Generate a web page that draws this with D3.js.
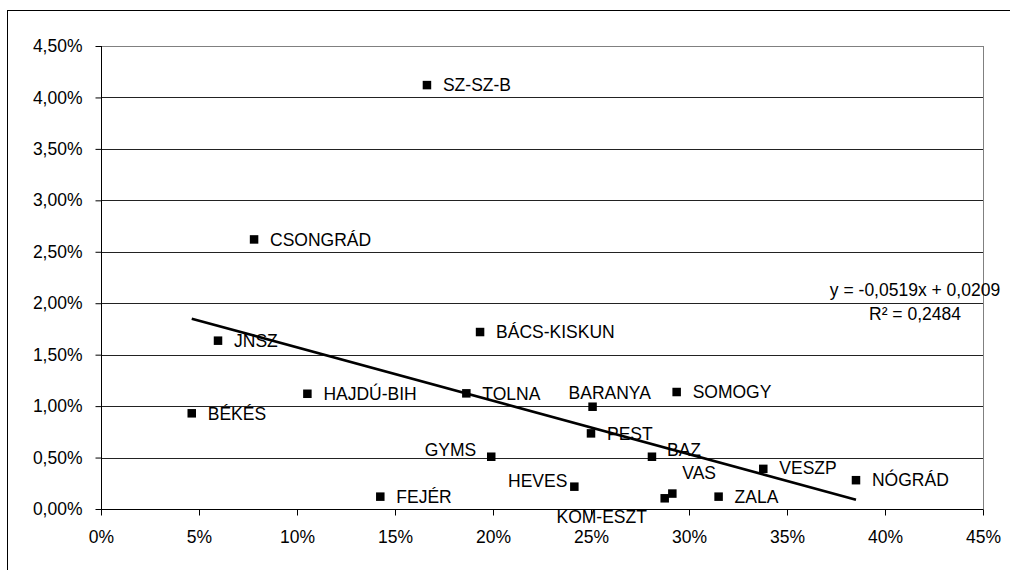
<!DOCTYPE html>
<html>
<head>
<meta charset="utf-8">
<script src="https://cdn.jsdelivr.net/npm/d3@7"></script>
<style>
  html, body { margin: 0; padding: 0; background: #fff; }
  svg { display: block; }
  text { font-family: "Liberation Sans", Arial, sans-serif; font-size: 17.5px; fill: #000; }
</style>
</head>
<body>
<svg id="chart" width="1010" height="570"></svg>
<script>
// ---- data ----
const regions = ["SZ-SZ-B","CSONGRÁD","JNSZ","BÉKÉS","HAJDÚ-BIH","BÁCS-KISKUN","TOLNA","BARANYA","PEST","GYMS","BAZ","HEVES","FEJÉR","KOM-ESZT","VAS","ZALA","VESZP","NÓGRÁD","SOMOGY"];
const xValues = [0.1663,0.0781,0.0597,0.0463,0.1053,0.1934,0.1864,0.2508,0.2500,0.1991,0.2811,0.2415,0.1425,0.2876,0.2915,0.3151,0.3379,0.3852,0.2937];
const yValues = [0.0412,0.0262,0.01636,0.0093,0.0112,0.0172,0.01124,0.00994,0.00735,0.00508,0.00508,0.00217,0.0012,0.00104,0.0015,0.0012,0.0039,0.0028,0.01137];
const xTicks = [0,0.05,0.10,0.15,0.20,0.25,0.30,0.35,0.40,0.45];
const yTicks = [0,0.005,0.010,0.015,0.020,0.025,0.030,0.035,0.040,0.045];
const trendSlope = -0.0519;
const trendIntercept = 0.0209;
const equationLines = ["y = -0,0519x + 0,0209", "R² = 0,2484"];

// ---- label placement (layout) ----
// [dx, dy, anchor] relative to marker centre
const labelPlacement = {
  "BARANYA": [-24, -14, "start"],
  "GYMS": [-15, -7, "end"],
  "BAZ": [15, -7, "start"],
  "HEVES": [-7, -6, "end"],
  "KOM-ESZT": [-63, 18, "middle"],
  "VAS": [10, -21, "start"],
  "VESZP": [16, -1, "start"]
};
const defaultPlacement = [16, 0, "start"];

// ---- layout ----
const svg = d3.select("#chart");
const plot = { left: 101, top: 46, right: 983, bottom: 509 };

const loc = d3.formatLocale({ decimal: ",", thousands: " ", grouping: [3], currency: ["", ""], percent: "%" });
const fmtY = loc.format(".2%");
const fmtX = loc.format(".0%");

const x = d3.scaleLinear().domain([0, 0.45]).range([plot.left, plot.right]);
const y = d3.scaleLinear().domain([0, 0.045]).range([plot.bottom, plot.top]);

// outer frame
svg.append("rect")
  .attr("x", 7.5).attr("y", 10.5).attr("width", 1010).attr("height", 570)
  .attr("fill", "none").attr("stroke", "#000").attr("stroke-width", 1);

// plot border (top/right gray)
svg.append("rect")
  .attr("x", plot.left + 0.5).attr("y", plot.top + 0.5)
  .attr("width", plot.right - plot.left).attr("height", plot.bottom - plot.top)
  .attr("fill", "none").attr("stroke", "#808080").attr("stroke-width", 1);

// gridlines
svg.append("g").selectAll("line")
  .data(yTicks.filter(d => d > 0))
  .join("line")
  .attr("x1", plot.left).attr("x2", plot.right)
  .attr("y1", d => Math.round(y(d)) + 0.5).attr("y2", d => Math.round(y(d)) + 0.5)
  .attr("stroke", d => d === 0.045 ? "#808080" : "#222").attr("stroke-width", 1);

// y axis
const yAxis = svg.append("g")
  .attr("transform", `translate(${plot.left + 0.5},0)`)
  .call(d3.axisLeft(y).tickValues(yTicks).tickFormat(fmtY).tickSize(6).tickPadding(13));
yAxis.select(".domain").attr("stroke", "#000").attr("d", `M0,${plot.top}V${plot.bottom}`);
yAxis.selectAll(".tick line").attr("stroke", "#000");
yAxis.selectAll("text").attr("font-size", "17.5px").attr("font-family", "'Liberation Sans', Arial, sans-serif").attr("fill", "#000");

// x axis
const xAxis = svg.append("g")
  .attr("transform", `translate(0,${plot.bottom + 0.5})`)
  .call(d3.axisBottom(x).tickValues(xTicks).tickFormat(fmtX).tickSize(6).tickPadding(15));
xAxis.select(".domain").attr("stroke", "#000").attr("d", `M${plot.left},0H${plot.right}`);
xAxis.selectAll(".tick line").attr("stroke", "#000");
xAxis.selectAll("text").attr("font-size", "17.5px").attr("font-family", "'Liberation Sans', Arial, sans-serif").attr("fill", "#000");

// points data
const pts = regions.map((r, i) => ({ name: r, x: xValues[i], y: yValues[i] }));

// trend line
const xMin = d3.min(xValues), xMax = d3.max(xValues);
svg.append("line")
  .attr("x1", x(xMin)).attr("y1", y(trendSlope * xMin + trendIntercept))
  .attr("x2", x(xMax)).attr("y2", y(trendSlope * xMax + trendIntercept))
  .attr("stroke", "#000").attr("stroke-width", 2.6);

// markers
const ms = 8.5;
svg.append("g").selectAll("rect")
  .data(pts)
  .join("rect")
  .attr("x", d => x(d.x) - ms / 2).attr("y", d => y(d.y) - ms / 2)
  .attr("width", ms).attr("height", ms)
  .attr("fill", "#000");

// labels
svg.append("g").selectAll("text")
  .data(pts)
  .join("text")
  .attr("x", d => x(d.x) + (labelPlacement[d.name] || defaultPlacement)[0])
  .attr("y", d => y(d.y) + (labelPlacement[d.name] || defaultPlacement)[1])
  .attr("dy", "0.36em")
  .attr("text-anchor", d => (labelPlacement[d.name] || defaultPlacement)[2])
  .text(d => d.name);

// equation
svg.append("g").selectAll("text")
  .data(equationLines)
  .join("text")
  .attr("x", 915)
  .attr("y", (d, i) => 290 + i * 24)
  .attr("dy", "0.36em")
  .attr("text-anchor", "middle")
  .text(d => d);
</script>
</body>
</html>
